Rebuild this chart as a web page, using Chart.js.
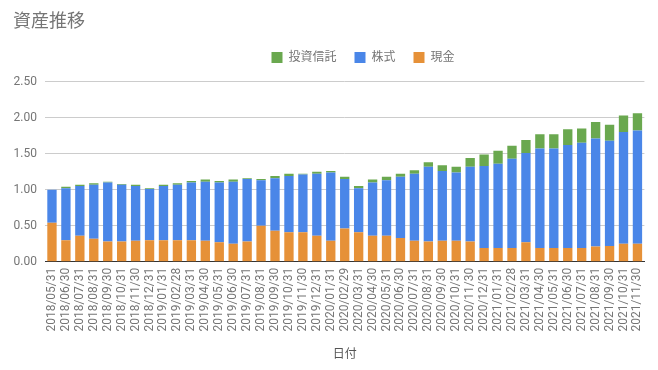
<!DOCTYPE html>
<html>
<head>
<meta charset="utf-8">
<script src="https://cdn.jsdelivr.net/npm/chart.js@4"></script>
<style>
  html, body { margin: 0; padding: 0; background: #fff; }
  #wrap { width: 658px; height: 370px; }
</style>
</head>
<body>
<div id="wrap"><canvas id="chart" width="658" height="370"></canvas></div>
<script>
const dates = [
  '2018/05/31', '2018/06/30', '2018/07/31', '2018/08/31', '2018/09/30', '2018/10/31', '2018/11/30', '2018/12/31',
  '2019/01/31', '2019/02/28', '2019/03/31', '2019/04/30', '2019/05/31', '2019/06/30', '2019/07/31', '2019/08/31',
  '2019/09/30', '2019/10/31', '2019/11/30', '2019/12/31', '2020/01/31', '2020/02/29', '2020/03/31', '2020/04/30',
  '2020/05/31', '2020/06/30', '2020/07/31', '2020/08/31', '2020/09/30', '2020/10/31', '2020/11/30', '2020/12/31',
  '2021/01/31', '2021/02/28', '2021/03/31', '2021/04/30', '2021/05/31', '2021/06/30', '2021/07/31', '2021/08/31',
  '2021/09/30', '2021/10/31', '2021/11/30'
];

// 現金
const cash = [
  0.54, 0.30, 0.36, 0.32, 0.28, 0.28, 0.29, 0.30, 0.30, 0.30, 0.30, 0.29, 0.27, 0.25, 0.28, 0.50,
  0.43, 0.41, 0.41, 0.36, 0.29, 0.46, 0.41, 0.36, 0.36, 0.33, 0.29, 0.28, 0.29, 0.29, 0.28, 0.19,
  0.19, 0.19, 0.27, 0.19, 0.19, 0.19, 0.19, 0.21, 0.22, 0.25, 0.25
];

// 株式
const stocks = [
  0.46, 0.72, 0.69, 0.75, 0.82, 0.79, 0.76, 0.71, 0.75, 0.77, 0.80, 0.82, 0.83, 0.86, 0.87, 0.63,
  0.73, 0.78, 0.80, 0.86, 0.95, 0.69, 0.61, 0.74, 0.77, 0.85, 0.93, 1.04, 0.97, 0.95, 1.04, 1.14,
  1.17, 1.24, 1.24, 1.38, 1.38, 1.43, 1.46, 1.50, 1.46, 1.55, 1.57
];

// 投資信託
const funds = [
  0.00, 0.02, 0.02, 0.02, 0.01, 0.01, 0.02, 0.01, 0.02, 0.02, 0.02, 0.03, 0.02, 0.03, 0.01, 0.02,
  0.03, 0.03, 0.01, 0.03, 0.02, 0.03, 0.03, 0.04, 0.05, 0.04, 0.05, 0.06, 0.08, 0.08, 0.12, 0.16,
  0.18, 0.18, 0.18, 0.20, 0.20, 0.22, 0.20, 0.23, 0.22, 0.23, 0.24
];

const FONT = 'Roboto, "Noto Sans CJK JP", sans-serif';
const GREY = '#757575';

const barOpts = {
  categoryPercentage: 1.0,
  barPercentage: 0.67,
  borderWidth: 0,
};

// legend sits a little right of centre in the original, with more room below it
const legendTweak = {
  id: 'legendTweak',
  beforeInit(chart) {
    const fit = chart.legend.fit;
    chart.legend.fit = function () {
      fit.bind(chart.legend)();
      this.height += 8;
    };
  },
  afterLayout(chart) {
    chart.legend.left += 34;
    chart.legend.right += 34;
  },
};

new Chart(document.getElementById('chart'), {
  type: 'bar',
  data: {
    labels: dates,
    datasets: [
      { label: '現金', data: cash, backgroundColor: '#e69138', ...barOpts },
      { label: '株式', data: stocks, backgroundColor: '#4a86e8', ...barOpts },
      { label: '投資信託', data: funds, backgroundColor: '#6aa84f', ...barOpts },
    ],
  },
  plugins: [legendTweak],
  options: {
    responsive: false,
    animation: false,
    layout: { padding: { left: 13, right: 13, top: 0, bottom: 8 } },
    plugins: {
      title: {
        display: true,
        text: '資産推移',
        align: 'start',
        color: GREY,
        font: { family: FONT, size: 18, weight: 'normal' },
        padding: { top: 12, bottom: 0 },
      },
      legend: {
        display: true,
        position: 'top',
        reverse: true,
        labels: {
          color: GREY,
          font: { family: FONT, size: 12 },
          boxWidth: 11,
          boxHeight: 11,
          padding: 18,
        },
      },
      tooltip: { enabled: false },
    },
    scales: {
      x: {
        stacked: true,
        grid: { display: false, drawTicks: false },
        border: { display: true, color: '#333', width: 1 },
        ticks: {
          color: GREY,
          font: { family: FONT, size: 12 },
          maxRotation: 90,
          minRotation: 90,
          autoSkip: false,
          padding: 6,
        },
        title: {
          display: true,
          text: '日付',
          color: '#555',
          font: { family: FONT, size: 12 },
          padding: { top: 10, bottom: 0 },
        },
      },
      y: {
        stacked: true,
        min: 0,
        max: 2.5,
        afterFit: (scale) => { scale.width = 32; },
        grid: { color: '#cccccc', drawTicks: false },
        border: { display: false },
        ticks: {
          stepSize: 0.5,
          color: GREY,
          font: { family: FONT, size: 12 },
          padding: 8,
          callback: (v) => v.toFixed(2),
        },
      },
    },
  },
});
</script>
</body>
</html>
